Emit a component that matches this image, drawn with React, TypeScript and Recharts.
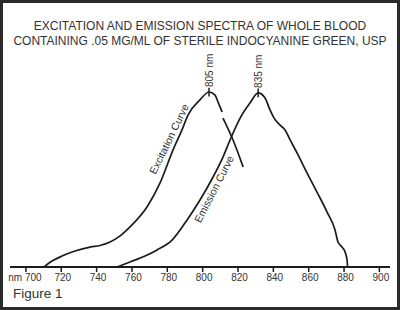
import React from "react";
import { LineChart, Line, XAxis, YAxis, ReferenceLine, ReferenceDot } from "recharts";

const FONT = "'Liberation Sans', Arial, Helvetica, sans-serif";
const INK = "#1c1c1c";
const TEXT = "#333";

const TITLE_LINES = [
  "EXCITATION AND EMISSION SPECTRA OF WHOLE BLOOD",
  "CONTAINING .05 MG/ML OF STERILE INDOCYANINE GREEN, USP",
];

const X_TICKS = [700, 720, 740, 760, 780, 800, 820, 840, 860, 880, 900];

// wavelength (nm) vs relative intensity
const EXCITATION = [
  { nm: 710.2, v: 0 },
  { nm: 714.8, v: 2.7 },
  { nm: 720.4, v: 5.0 },
  { nm: 727.8, v: 7.3 },
  { nm: 736.3, v: 9.1 },
  { nm: 741.9, v: 9.8 },
  { nm: 747.6, v: 11.4 },
  { nm: 753.3, v: 14.2 },
  { nm: 758.9, v: 18.3 },
  { nm: 768.5, v: 27.4 },
  { nm: 775.9, v: 38.4 },
  { nm: 783.2, v: 53.4 },
  { nm: 788.3, v: 62.6 },
  { nm: 791.7, v: 69.4 },
  { nm: 798.5, v: 76.3 },
  { nm: 803.6, v: 79.9 },
  { nm: 807.0, v: 78.5 },
  { nm: 808.7, v: 75.3 },
  { nm: 811.0, v: 70.8 },
  { nm: 811.3, v: null },
  { nm: 811.5, v: 68.0 },
  { nm: 817.2, v: 58.0 },
  { nm: 822.9, v: 45.7 },
];

const EMISSION = [
  { nm: 751.6, v: 0 },
  { nm: 758.9, v: 2.3 },
  { nm: 767.4, v: 5.0 },
  { nm: 774.2, v: 7.8 },
  { nm: 782.7, v: 12.3 },
  { nm: 791.2, v: 21.5 },
  { nm: 798.5, v: 30.6 },
  { nm: 805.9, v: 41.1 },
  { nm: 811.5, v: 50.2 },
  { nm: 815.5, v: 58.0 },
  { nm: 821.2, v: 68.0 },
  { nm: 826.8, v: 74.9 },
  { nm: 831.4, v: 79.5 },
  { nm: 835.3, v: 77.2 },
  { nm: 838.1, v: 71.7 },
  { nm: 840.4, v: 68.0 },
  { nm: 843.8, v: 64.8 },
  { nm: 846.6, v: 62.6 },
  { nm: 849.5, v: 58.0 },
  { nm: 853.4, v: 52.1 },
  { nm: 859.1, v: 42.9 },
  { nm: 864.7, v: 34.2 },
  { nm: 870.4, v: 25.1 },
  { nm: 874.9, v: 16.9 },
  { nm: 876.6, v: 11.4 },
  { nm: 877.8, v: 10.0 },
  { nm: 880.6, v: 6.8 },
  { nm: 881.7, v: 3.2 },
  { nm: 882.0, v: 0 },
];

const PEAKS = [
  { nm: 803.6, v: 79.9, label: "805 nm" },
  { nm: 831.4, v: 79.5, label: "835 nm" },
];

const CURVE_LABELS = [
  { nm: 781, v: 58.4, text: "Excitation Curve", angle: -64 },
  { nm: 806.5, v: 35.6, text: "Emission Curve", angle: -62.7 },
];

const XTick = (props: any) => {
  const { x, y, payload } = props;
  const v = payload.value;
  return (
    <text x={v === 700 ? x - 1 : x + 1.5} y={y} dy="0.71em" textAnchor="middle" fontSize={10} fill={TEXT} fontFamily={FONT}>
      {v === 700 ? `nm ${v}` : v}
    </text>
  );
};

const peakLabel = (text: string) => (props: any) => {
  const x = props.cx + 3.5;
  const y = props.cy - 5;
  return (
    <text x={x} y={y} transform={`rotate(-90 ${x} ${y})`} fontSize={10} fill={TEXT} fontFamily={FONT}>
      {text}
    </text>
  );
};

const curveLabel = (text: string, angle: number) => (props: any) => {
  const { cx, cy } = props;
  return (
    <text x={cx} y={cy} dy="0.35em" textAnchor="middle" transform={`rotate(${angle} ${cx} ${cy})`} fontSize={10.5} fill={TEXT} fontFamily={FONT}>
      {text}
    </text>
  );
};

export default function App() {
  return (
    <div style={{ position: "absolute", left: 0, top: 0, width: 400, height: 310, background: "#fff", fontFamily: FONT, overflow: "hidden" }}>
      <div style={{ position: "absolute", left: 0, top: 19, width: 400, textAlign: "center", fontSize: 12, lineHeight: "14.5px", color: TEXT }}>
        {TITLE_LINES.map(t => <div key={t}>{t}</div>)}
      </div>

      <LineChart width={400} height={310} data={EMISSION} margin={{ top: 48, right: 10, bottom: 13, left: 10 }} style={{ position: "absolute", left: 0, top: 0 }}>
        <XAxis
          type="number"
          dataKey="nm"
          domain={[691, 906]}
          ticks={X_TICKS}
          allowDataOverflow
          height={30}
          tickSize={5}
          tickMargin={2}
          stroke={INK}
          axisLine={{ stroke: INK, strokeWidth: 1.8 }}
          tickLine={{ stroke: INK, strokeWidth: 1.5 }}
          tick={<XTick />}
        />
        <YAxis type="number" domain={[0, 100]} width={0} tick={false} tickLine={false} axisLine={{ stroke: INK, strokeWidth: 1.8 }} />
        <Line data={EXCITATION} dataKey="v" type="monotone" stroke={INK} strokeWidth={1.7} dot={false} isAnimationActive={false} />
        <Line data={EMISSION} dataKey="v" type="monotone" stroke={INK} strokeWidth={1.7} dot={false} isAnimationActive={false} />
        {PEAKS.map(p => (
          <ReferenceLine key={p.label} segment={[{ x: p.nm, y: p.v - 2 }, { x: p.nm, y: p.v + 2 }]} stroke={INK} strokeWidth={1.5} />
        ))}
        {PEAKS.map(p => (
          <ReferenceDot key={p.label + "l"} x={p.nm} y={p.v} r={0} shape={peakLabel(p.label)} />
        ))}
        {CURVE_LABELS.map(c => (
          <ReferenceDot key={c.text} x={c.nm} y={c.v} r={0} shape={curveLabel(c.text, c.angle)} />
        ))}
      </LineChart>

      <div style={{ position: "absolute", left: 13, top: 287, fontSize: 13.5, lineHeight: "14px", color: TEXT }}>Figure 1</div>
      <div style={{ position: "absolute", left: 0, top: 0, width: 400, height: 310, boxSizing: "border-box", border: "3px solid #2a2a2a", pointerEvents: "none" }} />
    </div>
  );
}
